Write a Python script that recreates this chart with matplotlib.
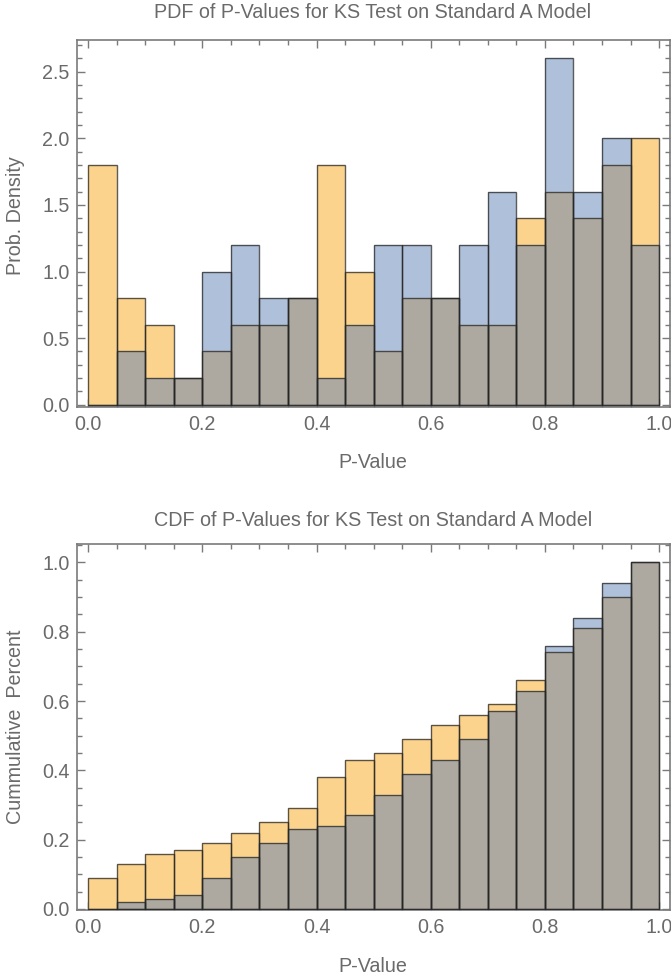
import numpy as np
import matplotlib
matplotlib.use("Agg")
import matplotlib.pyplot as plt
from matplotlib.ticker import MultipleLocator, FormatStrFormatter

# ---- data ----
bin_edges = [round(0.05 * i, 2) for i in range(21)]
pdf_blue = [0.0, 0.4, 0.2, 0.2, 1.0, 1.2, 0.8, 0.8, 0.2, 0.6,
            1.2, 1.2, 0.8, 1.2, 1.6, 1.2, 2.6, 1.6, 2.0, 1.2]
pdf_orange = [1.8, 0.8, 0.6, 0.2, 0.4, 0.6, 0.6, 0.8, 1.8, 1.0,
              0.4, 0.8, 0.8, 0.6, 0.6, 1.4, 1.6, 1.4, 1.8, 2.0]
cdf_blue = [0.0, 0.02, 0.03, 0.04, 0.09, 0.15, 0.19, 0.23, 0.24, 0.27,
            0.33, 0.39, 0.43, 0.49, 0.57, 0.63, 0.76, 0.84, 0.94, 1.0]
cdf_orange = [0.09, 0.13, 0.16, 0.17, 0.19, 0.22, 0.25, 0.29, 0.38, 0.43,
              0.45, 0.49, 0.53, 0.56, 0.59, 0.66, 0.74, 0.81, 0.90, 1.0]
titles = ["PDF of P-Values for KS Test on Standard A Model",
          "CDF of P-Values for KS Test on Standard A Model"]
ylabels = ["Prob. Density", "Cummulative  Percent"]
xlabel = "P-Value"

BLUE = "#AFC0DA"
ORANGE = "#FCD38C"
GRAY = "#ADA9A0"
EDGE = (0.15, 0.15, 0.15, 0.75)
TXT = "#6a6a6a"
SPINE = "#7a7a7a"
FS = 14.2

plt.rcParams['font.family'] = ['Liberation Sans', 'DejaVu Sans']

W, H = 671, 976
fig = plt.figure(figsize=(W / 100, H / 100), dpi=100)

def axes_px(left, top, right, bottom):
    return fig.add_axes([left / W, 1 - bottom / H, (right - left) / W, (bottom - top) / H])

ax1 = axes_px(76.7, 40, 670, 407)
ax2 = axes_px(76.7, 544, 670, 910)

left = np.array(bin_edges[:-1])
width = np.diff(bin_edges)

def draw(ax, b, o):
    b = np.array(b); o = np.array(o)
    ax.bar(left, b, width=width, align='edge', color=BLUE, linewidth=0, zorder=1)
    ax.bar(left, o, width=width, align='edge', color=ORANGE, linewidth=0, zorder=2)
    ax.bar(left, np.minimum(b, o), width=width, align='edge', color=GRAY, linewidth=0, zorder=3)
    ax.bar(left, b, width=width, align='edge', fill=False, edgecolor=EDGE, linewidth=1.0, zorder=4)
    ax.bar(left, o, width=width, align='edge', fill=False, edgecolor=EDGE, linewidth=1.0, zorder=4)

draw(ax1, pdf_blue, pdf_orange)
draw(ax2, cdf_blue, cdf_orange)

ax1.set_xlim(-0.02, 1.019)
ax1.set_ylim(-0.017, 2.738)
ax2.set_xlim(-0.02, 1.019)
ax2.set_ylim(-0.003, 1.053)

ax1.yaxis.set_major_locator(MultipleLocator(0.5))
ax1.yaxis.set_minor_locator(MultipleLocator(0.1))
ax2.yaxis.set_major_locator(MultipleLocator(0.2))
ax2.yaxis.set_minor_locator(MultipleLocator(0.05))

for ax, title, yl, ycen in [(ax1, titles[0], ylabels[0], 12), (ax2, titles[1], ylabels[1], 521)]:
    ax.xaxis.set_major_locator(MultipleLocator(0.2))
    ax.xaxis.set_minor_locator(MultipleLocator(0.05))
    ax.xaxis.set_major_formatter(FormatStrFormatter('%.1f'))
    ax.yaxis.set_major_formatter(FormatStrFormatter('%.1f'))
    ax.tick_params(which='both', direction='in', top=True, right=True,
                   color=SPINE, labelcolor=TXT, labelsize=FS, width=1.0)
    ax.tick_params(which='major', length=6)
    ax.tick_params(which='minor', length=3.5)
    ax.tick_params(axis='x', pad=6)
    ax.tick_params(axis='y', pad=5)
    for s in ax.spines.values():
        s.set_color(SPINE)
        s.set_linewidth(1.2)
    fig.text(373 / W, 1 - ycen / H, title, ha='center', va='center', fontsize=FS, color=TXT)

fig.text(373 / W, 1 - 463 / H, xlabel, ha='center', va='center', fontsize=FS, color=TXT)
fig.text(373 / W, 1 - 966 / H, xlabel, ha='center', va='center', fontsize=FS, color=TXT)
fig.text(16 / W, 1 - 216 / H, ylabels[0], ha='center', va='center', rotation=90, fontsize=FS, color=TXT)
fig.text(16 / W, 1 - 727 / H, ylabels[1], ha='center', va='center', rotation=90, fontsize=FS, color=TXT)

fig.savefig("out.png", dpi=100)
